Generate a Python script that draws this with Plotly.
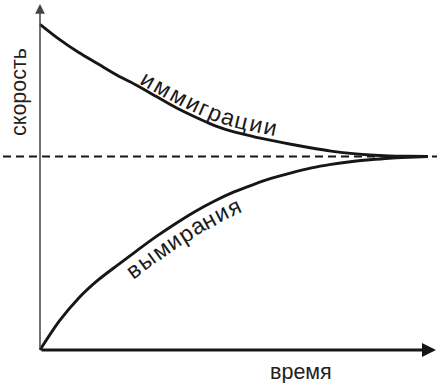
import math
import numpy as np
import plotly.graph_objects as go

# ---- data (time in arbitrary units, rate relative to equilibrium) ----
time = [0, 0.5, 1, 1.5, 2, 2.5, 3, 3.5, 4, 4.5, 5, 5.5, 6, 6.5, 7, 7.5, 8, 8.5, 9, 9.5, 10]
immigration = [1.683, 1.605, 1.537, 1.478, 1.419, 1.367, 1.310, 1.253, 1.204, 1.160, 1.127,
               1.103, 1.082, 1.062, 1.044, 1.028, 1.016, 1.008, 1.003, 1.001, 1.0]
extinction = [0.0, 0.150, 0.269, 0.362, 0.439, 0.514, 0.587, 0.654, 0.716, 0.770, 0.817,
              0.855, 0.889, 0.917, 0.941, 0.959, 0.973, 0.983, 0.991, 0.996, 1.0]
equilibrium = 1.0

label_x = "время"
label_y = "скорость"
label_imm = "иммиграции"
label_ext = "вымирания"

# ---- geometry ----
W, H = 437, 383
X0, XS = 40.0, 38.8      # pixel of t=0, pixels per time unit
Y0, YS = 350.0, 193.5    # pixel of rate=0, pixels per rate unit
xr = [(0 - X0) / XS, (W - X0) / XS]
yr = [(Y0 - H) / YS, (Y0 - 0) / YS]

def tx(px):
    return (px - X0) / XS

def ry(py):
    return (Y0 - py) / YS

INK = "#161616"
FONT = "Liberation Sans, Arial, Helvetica, sans-serif"

fig = go.Figure()
for ys in (immigration, extinction):
    fig.add_trace(go.Scatter(x=time, y=ys, mode="lines",
                             line=dict(color=INK, width=2.9, shape="spline", smoothing=0.8),
                             hoverinfo="skip"))

# dashed equilibrium line
fig.add_shape(type="line", xref="paper", x0=3 / W, x1=1, yref="y", y0=equilibrium, y1=equilibrium,
              line=dict(color=INK, width=2, dash="8px,5px"))

# axes with arrows
fig.add_annotation(x=0, y=ry(4), ax=0, ay=0, axref="x", ayref="y", xref="x", yref="y",
                   showarrow=True, arrowhead=2, arrowsize=1.3, arrowwidth=1.5,
                   arrowcolor="#444", text="")
fig.add_annotation(x=tx(436), y=0, ax=0, ay=0, axref="x", ayref="y", xref="x", yref="y",
                   showarrow=True, arrowhead=2, arrowsize=1.0, arrowwidth=2.8,
                   arrowcolor=INK, text="")

common = dict(xref="paper", yref="paper", showarrow=False,
              xanchor="center", yanchor="middle")
axis_font = dict(family=FONT, color="#222", size=21.5)
fig.add_annotation(x=19 / W, y=1 - 92 / H, text=label_y, textangle=-90, font=axis_font, **common)
fig.add_annotation(x=301 / W, y=1 - 371.5 / H, text=label_x, font=axis_font, **common)

# ---- labels written along the curves, one glyph at a time ----
CW = {"а": 0.556, "в": 0.532, "г": 0.365, "е": 0.556, "и": 0.560, "м": 0.684,
      "н": 0.552, "р": 0.556, "ц": 0.570, "ы": 0.720, "я": 0.542}

def along_curve(text, ys, px_start, px_end, d0, d1, side, size):
    cx = X0 + XS * np.asarray(time, float)
    cy = Y0 - YS * np.asarray(ys, float)
    gx = np.linspace(cx[0], cx[-1], 4000)
    gy = np.interp(gx, cx, cy)
    s = np.concatenate([[0.0], np.cumsum(np.hypot(np.diff(gx), np.diff(gy)))])
    s0, s1 = np.interp(px_start, gx, s), np.interp(px_end, gx, s)
    ws = [CW.get(c, 0.55) for c in text]
    tot = sum(ws)
    cum = 0.0
    f = dict(family=FONT, color="#1a1a1a", size=size)
    for c, w in zip(text, ws):
        frac = (cum + w / 2) / tot
        cum += w
        sc = s0 + frac * (s1 - s0)
        x, y = np.interp(sc, s, gx), np.interp(sc, s, gy)
        xa, ya = np.interp(sc - 4, s, gx), np.interp(sc - 4, s, gy)
        xb, yb = np.interp(sc + 4, s, gx), np.interp(sc + 4, s, gy)
        a = math.atan2(yb - ya, xb - xa)
        nx, ny = math.sin(a), -math.cos(a)
        if side == "below":
            nx, ny = -nx, -ny
        d = d0 + (d1 - d0) * frac
        X, Y = x + d * nx, y + d * ny
        fig.add_annotation(x=X / W, y=1 - Y / H, text=c, textangle=math.degrees(a),
                           font=f, **common)

along_curve(label_imm, immigration, 137, 275, 10.5, 13.5, "above", 23)
along_curve(label_ext, extinction, 120, 234, 13.0, 14.0, "below", 23)

fig.update_layout(width=W, height=H, margin=dict(l=0, r=0, t=0, b=0),
                  paper_bgcolor="white", plot_bgcolor="white", showlegend=False,
                  xaxis=dict(range=xr, visible=False, fixedrange=True),
                  yaxis=dict(range=yr, visible=False, fixedrange=True))
fig.write_html("out.html", config={"displayModeBar": False},
               post_script="document.body.style.margin='0';document.body.style.overflow='hidden';")
